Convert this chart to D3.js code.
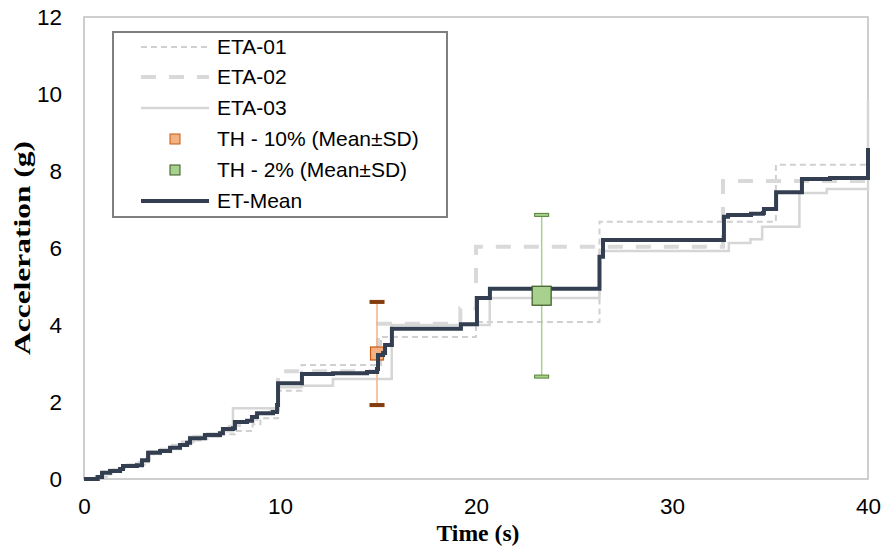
<!DOCTYPE html>
<html>
<head>
<meta charset="utf-8">
<title>Acceleration - time</title>
<script src="https://cdn.jsdelivr.net/npm/d3@7"></script>
<style>
  body { margin: 0; background: #fff; }
  text { font-family: "Liberation Sans", Arial, sans-serif; fill: #000; }
  text.axisTitle { font-family: "Liberation Serif", "Times New Roman", serif; font-weight: bold; }
</style>
</head>
<body>
<svg id="chart" width="885" height="548"></svg>
<script>
// step records [time (s), acceleration (g)], value holds until the next point
var eta01 = [[0,0],[0.8,0.06],[1.3,0.19],[1.9,0.27],[2.1,0.32],[2.8,0.37],[3.2,0.64],[3.9,0.70],[4.4,0.78],
  [4.9,0.86],[5.3,0.92],[5.5,1.0],[6.1,1.04],[6.3,1.12],[7.0,1.16],[7.7,1.25],[8.6,1.42],[9.0,1.58],
  [9.9,2.29],[11.1,2.96],[15.15,3.69],[20.0,4.08],[26.3,6.68],[35.3,8.16],[40,8.16]];
var eta02 = [[0,0],[0.7,0.04],[0.95,0.14],[1.35,0.22],[1.9,0.25],[2.1,0.36],[2.7,0.38],[3.0,0.52],[3.3,0.68],
  [3.9,0.72],[4.4,0.80],[4.9,0.84],[5.2,0.92],[5.4,1.08],[6.2,1.12],[6.9,1.18],[7.1,1.36],[7.7,1.40],
  [8.3,1.46],[8.6,1.55],[8.8,1.75],[9.6,1.80],[9.9,2.80],[15.0,4.03],[19.2,4.43],[20.0,6.03],[32.6,7.74],[40,7.74]];
var eta03 = [[0,0],[0.6,0.07],[1.0,0.18],[1.5,0.25],[2.0,0.35],[2.8,0.44],[3.3,0.72],[3.9,0.78],[4.5,0.88],
  [5.0,0.97],[5.6,1.12],[6.3,1.18],[7.0,1.24],[7.6,1.84],[9.9,2.38],[11.1,2.42],[12.7,2.60],[15.7,4.0],
  [20.7,4.70],[26.3,5.92],[32.9,6.13],[34.0,6.23],[34.6,6.55],[36.5,7.43],[37.9,7.53],[40,9.85]];
var etMean = [[0,0],[0.7,0.05],[0.92,0.16],[1.33,0.21],[1.84,0.26],[1.99,0.34],[2.7,0.36],[2.96,0.49],[3.27,0.68],
  [3.88,0.73],[4.39,0.81],[4.9,0.88],[5.26,0.94],[5.41,1.06],[6.17,1.14],[6.94,1.19],[7.09,1.30],[7.6,1.32],
  [7.7,1.48],[8.32,1.51],[8.57,1.61],[8.83,1.71],[9.64,1.74],[9.85,1.92],[9.9,2.49],[11.12,2.73],[12.7,2.75],
  [14.44,2.78],[14.95,2.86],[15.0,3.22],[15.26,3.27],[15.36,3.48],[15.71,3.90],[19.23,4.02],[20.05,4.70],
  [20.71,4.94],[26.3,5.77],[26.48,6.21],[32.65,6.81],[32.86,6.86],[34.03,6.89],[34.64,6.91],[34.69,7.01],
  [35.31,7.45],[36.63,7.79],[38.06,7.82],[40,8.6]];

// time-history points, mean +- standard deviation
var thLabels = ["TH - 10% (Mean\u00b1SD)", "TH - 2% (Mean\u00b1SD)"];
var thTime = [14.95, 23.35];
var thMean = [3.26, 4.76];
var thSD = [1.34, 2.10];

var xTicks = [0, 10, 20, 30, 40];
var yTicks = [0, 2, 4, 6, 8, 10, 12];

var svg = d3.select("#chart");
var x = d3.scaleLinear().domain([0, 40]).range([84, 868]);
var y = d3.scaleLinear().domain([0, 12]).range([479, 17]);

//plot frame
svg.append("rect")
  .attr("x", x(0)).attr("y", y(12))
  .attr("width", x(40) - x(0)).attr("height", y(0) - y(12))
  .attr("fill", "none").attr("stroke", "#bfbfbf").attr("stroke-width", 1.5);

var yAxis = svg.append("g").attr("transform", "translate(" + x(0) + ",0)")
  .call(d3.axisLeft(y).tickValues(yTicks).tickSize(0).tickPadding(22));
var xAxis = svg.append("g").attr("transform", "translate(0," + y(0) + ")")
  .call(d3.axisBottom(x).tickValues(xTicks).tickSize(0).tickPadding(19));
[xAxis, yAxis].forEach(function(a) {
  a.select(".domain").remove();
  a.selectAll("text").attr("font-size", 22.5).attr("font-family", "Liberation Sans, Arial, sans-serif");
});

svg.append("text").attr("class", "axisTitle")
  .attr("x", 478).attr("y", 541).attr("text-anchor", "middle")
  .attr("font-size", 24).attr("textLength", 83).attr("lengthAdjust", "spacingAndGlyphs")
  .text("Time (s)");
svg.append("text").attr("class", "axisTitle")
  .attr("transform", "translate(30,248) rotate(-90)").attr("text-anchor", "middle")
  .attr("font-size", 23).attr("textLength", 214).attr("lengthAdjust", "spacingAndGlyphs")
  .text("Acceleration (g)");

var line = d3.line()
  .x(function(d) { return x(d[0]); })
  .y(function(d) { return y(d[1]); })
  .curve(d3.curveStepAfter);

var etaStyles = [
  { data: eta01, name: "ETA-01", color: "#d0d0d0", width: 2, dash: "6,4" },
  { data: eta02, name: "ETA-02", color: "#d9d9d9", width: 4, dash: "15,13" },
  { data: eta03, name: "ETA-03", color: "#d6d6d6", width: 2.5, dash: null }
];
etaStyles.forEach(function(s) {
  svg.append("path").attr("d", line(s.data))
    .attr("fill", "none").attr("stroke", s.color).attr("stroke-width", s.width)
    .attr("stroke-dasharray", s.dash);
});

var thStyles = [
  { fill: "#f4b183", stroke: "#c55a11", bar: "#f4b183", cap: "#843c0c", capStroke: "#843c0c", size: 13 },
  { fill: "#a9d18e", stroke: "#385723", bar: "#a9d18e", cap: "#a9d18e", capStroke: "#548235", size: 19 }
];

function drawTH(i) {
  var s = thStyles[i];
  var g = svg.append("g");
  var cx = x(thTime[i]);
  g.append("line")
    .attr("x1", cx).attr("x2", cx)
    .attr("y1", y(thMean[i] - thSD[i])).attr("y2", y(thMean[i] + thSD[i]))
    .attr("stroke", s.bar).attr("stroke-width", 1.5);
  [thMean[i] - thSD[i], thMean[i] + thSD[i]].forEach(function(v) {
    g.append("rect")
      .attr("x", cx - 7).attr("y", y(v) - 1.5).attr("width", 14).attr("height", 3)
      .attr("fill", s.cap).attr("stroke", s.capStroke).attr("stroke-width", 1);
  });
  g.append("rect")
    .attr("x", cx - s.size / 2).attr("y", y(thMean[i]) - s.size / 2)
    .attr("width", s.size).attr("height", s.size)
    .attr("fill", s.fill).attr("stroke", s.stroke).attr("stroke-width", 1.2);
}

drawTH(0);
svg.append("path").attr("d", line(etMean))
  .attr("fill", "none").attr("stroke", "#333f50").attr("stroke-width", 4);
drawTH(1);

//legend
var legend = svg.append("g");
legend.append("rect").attr("x", 113).attr("y", 32).attr("width", 334).attr("height", 185)
  .attr("fill", "#fff").attr("stroke", "#7f7f7f").attr("stroke-width", 2);

var rowY = [47, 77, 108, 139, 170, 201];
etaStyles.forEach(function(s, i) {
  legend.append("line").attr("x1", 141).attr("x2", 209).attr("y1", rowY[i]).attr("y2", rowY[i])
    .attr("stroke", s.color).attr("stroke-width", s.width).attr("stroke-dasharray", s.dash);
  legend.append("text").attr("x", 217).attr("y", rowY[i]).attr("dy", "0.35em")
    .attr("font-size", 21).text(s.name);
});
thLabels.forEach(function(name, i) {
  var s = thStyles[i];
  legend.append("rect").attr("x", 170).attr("y", rowY[3 + i] - 5).attr("width", 10).attr("height", 10)
    .attr("fill", s.fill).attr("stroke", s.stroke).attr("stroke-width", 1);
  legend.append("text").attr("x", 217).attr("y", rowY[3 + i]).attr("dy", "0.35em")
    .attr("font-size", 21).text(name);
});
legend.append("line").attr("x1", 141).attr("x2", 209).attr("y1", rowY[5]).attr("y2", rowY[5])
  .attr("stroke", "#333f50").attr("stroke-width", 4);
legend.append("text").attr("x", 217).attr("y", rowY[5]).attr("dy", "0.35em")
  .attr("font-size", 21).text("ET-Mean");
</script>
</body>
</html>
